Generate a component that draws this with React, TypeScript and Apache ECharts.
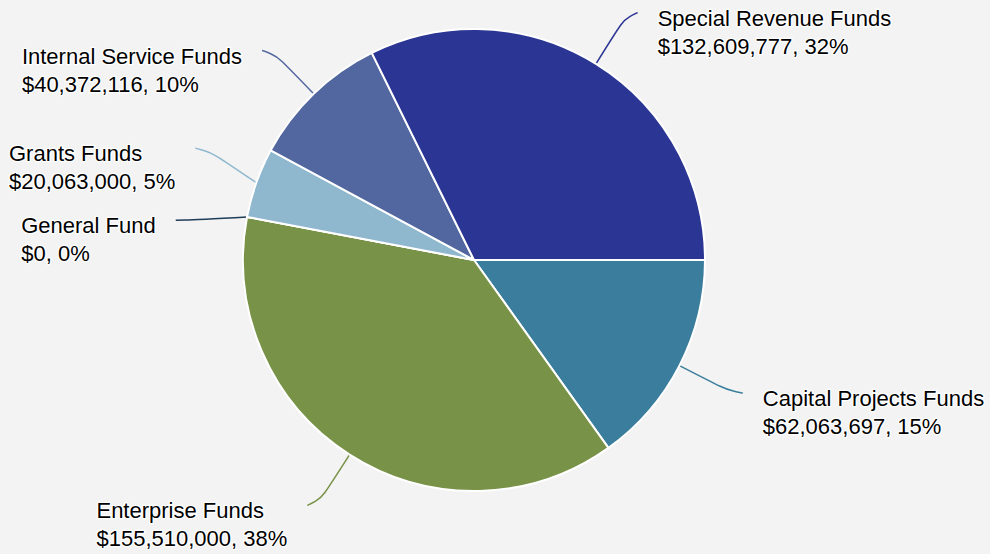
import React, { useEffect, useRef } from "react";
import * as echarts from "echarts";

const categories = [
  "Capital Projects Funds",
  "Enterprise Funds",
  "General Fund",
  "Grants Funds",
  "Internal Service Funds",
  "Special Revenue Funds",
];
const values = [62063697, 155510000, 0, 20063000, 40372116, 132609777];
const colors = ["#3b7d9c", "#789247", "#1e3d58", "#8fb8cf", "#52679f", "#2b3593"];

// layout parameters
const CX = 474;
const CY = 260;
const R = 231;
const LEN = 60;
const LEN2 = 10;
const GAP = 20;
const SPACING = 72;

const textBase = {
  fontSize: 22,
  fontFamily: "'Liberation Sans', Arial, sans-serif",
  color: "#000",
  textBorderColor: "#ffffff",
  textBorderWidth: 2.5,
  align: "left" as const,
};

function computeLabelYs() {
  const total = values.reduce((a, b) => a + b, 0);
  let cum = 0;
  const info = values.map((v, i) => {
    const mid = (-(cum + v / 2) / total) * 2 * Math.PI;
    cum += v;
    const dir = Math.cos(mid) < 0 ? -1 : 1;
    const y = CY - (R + LEN) * Math.sin(mid);
    return { i, dir, y, mid };
  });
  const result: number[] = info.map((d) => d.y);
  [-1, 1].forEach((side) => {
    const items = info.filter((d) => d.dir === side).sort((a, b) => a.y - b.y);
    let clusters = items.map((it) => ({ members: [it], center: it.y }));
    let merged = true;
    while (merged) {
      merged = false;
      for (let k = 0; k < clusters.length - 1; k++) {
        const a = clusters[k];
        const b = clusters[k + 1];
        const aBottom = a.center + ((a.members.length - 1) * SPACING) / 2;
        const bTop = b.center - ((b.members.length - 1) * SPACING) / 2;
        if (bTop - aBottom < SPACING) {
          const members = a.members.concat(b.members);
          const center = members.reduce((s, m) => s + m.y, 0) / members.length;
          clusters.splice(k, 2, { members, center });
          merged = true;
          break;
        }
      }
    }
    clusters.forEach((c) => {
      const n = c.members.length;
      c.members.forEach((m, j) => {
        result[m.i] = c.center + (j - (n - 1) / 2) * SPACING;
      });
    });
  });
  return { info, ys: result };
}

export default function App() {
  const ref = useRef<HTMLDivElement>(null);
  useEffect(() => {
    if (!ref.current) return;
    const chart = echarts.init(ref.current, undefined, { renderer: "svg" });
    const total = values.reduce((a, b) => a + b, 0);
    const { info, ys } = computeLabelYs();
    chart.setOption({
      animation: false,
      backgroundColor: "#f3f3f3",
      series: [
        {
          type: "pie",
          left: CX - 574,
          top: CY - 360,
          width: 1148,
          height: 720,
          center: ["50%", "50%"],
          radius: R,
          startAngle: 0,
          clockwise: true,
          avoidLabelOverlap: false,
          itemStyle: { borderColor: "#ffffff", borderWidth: 2 },
          data: categories.map((name, i) => ({
            name,
            value: values[i],
            itemStyle: { color: colors[i] },
          })),
          label: {
            show: true,
            position: "outside",
            distanceToLabelLine: GAP,
            formatter: (p: any) => {
              const pct = Math.round((p.value / total) * 100);
              return `{a|${p.name}}\n{b|$${Number(p.value).toLocaleString("en-US")}, ${pct}%}`;
            },
            rich: {
              a: { ...textBase, lineHeight: 11 },
              b: { ...textBase, lineHeight: 45 },
            },
          },
          labelLine: {
            show: true,
            length: LEN,
            length2: LEN2,
            smooth: 0.9,
            lineStyle: { width: 1.5 },
          },
          labelLayout: (params: any) => {
            const idx = params.dataIndex;
            const d = info[idx];
            const dir = d.dir;
            const newY = ys[idx];
            const dy = newY - CY;
            const rr = R + LEN;
            const p0 =
              params.labelLinePoints && params.labelLinePoints[0]
                ? params.labelLinePoints[0]
                : [CX + R * Math.cos(d.mid), CY - R * Math.sin(d.mid)];
            const px = CX + dir * Math.sqrt(Math.max(rr * rr - dy * dy, 0));
            const p1 = [px, newY];
            const p2 = [px + dir * LEN2, newY];
            return {
              x: p2[0] + dir * GAP,
              y: newY,
              align: dir < 0 ? "right" : "left",
              verticalAlign: "top",
              labelLinePoints: [p0, p1, p2],
            };
          },
        },
      ],
    });
    return () => chart.dispose();
  }, []);
  return (
    <div
      ref={ref}
      style={{ position: "fixed", left: 0, top: 0, width: 990, height: 554 }}
    />
  );
}
